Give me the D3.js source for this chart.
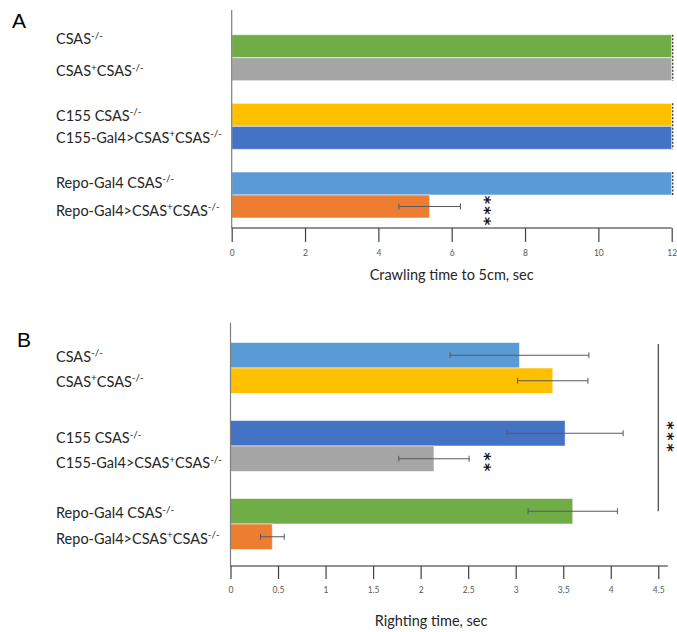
<!DOCTYPE html>
<html>
<head>
<meta charset="utf-8">
<script src="https://cdn.jsdelivr.net/npm/d3@7"></script>
<style>
  html, body { margin: 0; padding: 0; background: #fff; }
  svg { display: block; }
</style>
</head>
<body>
<svg id="chart" width="677" height="632"></svg>
<script>
// Genotype labels; ^{...} marks a superscript run
const genotypes = [
  "CSAS^{-/-}",
  "CSAS^{+}CSAS^{-/-}",
  "C155 CSAS^{-/-}",
  "C155-Gal4>CSAS^{+}CSAS^{-/-}",
  "Repo-Gal4 CSAS^{-/-}",
  "Repo-Gal4>CSAS^{+}CSAS^{-/-}"
];

// Panel A: crawling time to 5 cm (sec); 12 = cut-off
const crawlValues = [12, 12, 12, 12, 12, 5.4];
const crawlErrors = [null, null, null, null, null, 0.84];
const crawlColors = ["#70AD47", "#A5A5A5", "#FFC000", "#4472C4", "#5B9BD5", "#ED7D31"];
const crawlCutoff = [true, true, true, true, true, false];
const crawlTicks = [0, 2, 4, 6, 8, 10, 12];

// Panel B: righting time (sec)
const rightValues = [3.04, 3.39, 3.52, 2.14, 3.6, 0.44];
const rightErrors = [0.73, 0.37, 0.61, 0.37, 0.47, 0.125];
const rightColors = ["#5B9BD5", "#FFC000", "#4472C4", "#A5A5A5", "#70AD47", "#ED7D31"];
const rightTicks = [0, 0.5, 1, 1.5, 2, 2.5, 3, 3.5, 4, 4.5];

// Significance marks
const crawlStars = [{ row: 5, x: 7.0, text: "***" }];
const rightStars = [{ row: 3, x: 2.71, text: "**" }];
const rightBracket = { from: 0, to: 4, x: 4.5, text: "***" };

const svg = d3.select("#chart");
const FONT = "Lato, 'Open Sans', sans-serif";

function addLabel(sel, str, fs) {
  const parts = [];
  const re = /\^\{([^}]*)\}/g;
  let last = 0, m;
  while ((m = re.exec(str)) !== null) {
    if (m.index > last) parts.push({ t: str.slice(last, m.index), sup: false });
    parts.push({ t: m[1], sup: true });
    last = re.lastIndex;
  }
  if (last < str.length) parts.push({ t: str.slice(last), sup: false });
  let shifted = false;
  parts.forEach(p => {
    const ts = sel.append("tspan").text(p.t);
    if (p.sup && !shifted) { ts.attr("dy", -fs * 0.38).attr("font-size", fs * 0.68); shifted = true; }
    else if (p.sup) { ts.attr("font-size", fs * 0.68); }
    else if (!p.sup && shifted) { ts.attr("dy", fs * 0.38); shifted = false; }
  });
}

// Asterisks stacked vertically: the string is turned a quarter turn
function drawStars(g, cx, cy, str, spacing) {
  const fs = 16;
  const adv = fs * 0.5;
  const ls = spacing - adv;
  g.append("text")
    .attr("transform", `translate(${cx},${cy}) rotate(90)`)
    .attr("x", ls / 2)
    .attr("y", fs * 0.6)
    .attr("text-anchor", "middle")
    .attr("letter-spacing", ls)
    .attr("font-family", "'DejaVu Sans', sans-serif")
    .attr("font-weight", "bold")
    .attr("font-size", fs)
    .attr("fill", "#1a1a1a")
    .text(str);
}

function panel(opts) {
  const g = svg.append("g");
  const x = d3.scaleLinear().domain(opts.domain).range(opts.xRange);
  const groupY = d3.scalePoint().domain([0, 1, 2]).range(opts.groupCenters);
  const barH = opts.barH;
  const rowY = i => groupY(Math.floor(i / 2)) - barH + (i % 2) * barH;
  const rowC = i => rowY(i) + barH / 2;

  // bars
  g.selectAll("rect.bar")
    .data(opts.values)
    .join("rect")
    .attr("class", "bar")
    .attr("x", x(0))
    .attr("y", (d, i) => rowY(i))
    .attr("width", d => x(d) - x(0))
    .attr("height", barH)
    .attr("fill", (d, i) => opts.colors[i])
    .attr("stroke", "#ffffff")
    .attr("stroke-opacity", 0.55)
    .attr("stroke-width", 1);

  // error bars
  opts.errors.forEach((e, i) => {
    if (e == null) return;
    const v = opts.values[i], c = rowC(i);
    g.append("line").attr("x1", x(v - e)).attr("x2", x(v + e)).attr("y1", c).attr("y2", c)
      .attr("stroke", "#595959").attr("stroke-width", 1);
    [v - e, v + e].forEach(xv => {
      g.append("line").attr("x1", x(xv)).attr("x2", x(xv)).attr("y1", c - 3).attr("y2", c + 3)
        .attr("stroke", "#595959").attr("stroke-width", 1);
    });
  });

  // y axis line
  g.append("line")
    .attr("x1", x(0)).attr("x2", x(0))
    .attr("y1", opts.yTop).attr("y2", opts.axisY)
    .attr("stroke", "#7f7f7f").attr("stroke-width", 1.2);

  // x axis
  const ax = g.append("g")
    .attr("transform", `translate(0,${opts.axisY})`)
    .call(d3.axisBottom(x).tickValues(opts.ticks).tickSizeInner(opts.tickLen).tickSizeOuter(0)
      .tickPadding(opts.tickPad).tickFormat(d3.format("~g")));
  ax.select(".domain").attr("stroke", "#262626").attr("stroke-width", 1.2)
    .attr("d", `M${x(0)},0H${x(opts.domain[1])}`);
  ax.selectAll(".tick line").attr("stroke", "#404040").attr("stroke-width", 1.2);
  ax.selectAll(".tick text").attr("fill", "#595959").attr("font-size", 8.5)
    .attr("font-family", FONT);

  // axis title
  g.append("text")
    .attr("x", x(opts.titleX)).attr("y", opts.titleY)
    .attr("text-anchor", "middle")
    .attr("font-family", FONT).attr("font-size", 14.5).attr("fill", "#262626")
    .text(opts.title);

  // genotype labels
  genotypes.forEach((lab, i) => {
    const t = g.append("text")
      .attr("x", 56).attr("y", rowC(i) + opts.labelShift[i] + 5)
      .attr("font-family", FONT).attr("font-size", 14.5).attr("fill", "#262626");
    addLabel(t, lab, 14.5);
  });

  // panel letter
  g.append("text")
    .attr("x", opts.letterX).attr("y", opts.letterY)
    .attr("font-family", "'Liberation Sans', Arial, sans-serif").attr("font-size", 21)
    .attr("fill", "#000")
    .text(opts.letter);

  return { g, x, rowY, rowC, barH, groupY };
}

// Panel A
const A = panel({
  letter: "A", letterX: 12, letterY: 28,
  domain: [0, 12], xRange: [231.7, 671.7],
  groupCenters: [57.7, 195], barH: 23,
  values: crawlValues, errors: crawlErrors, colors: crawlColors,
  ticks: crawlTicks, yTop: 10, axisY: 228, tickLen: 14, tickPad: 8,
  title: "Crawling time to 5cm, sec", titleX: 6, titleY: 280,
  labelShift: [-7, 2, 1, 0, -1, 4.5]
});
// dashed cut-off markers at the end of capped bars
[0, 1, 2].forEach(gi => {
  const i0 = gi * 2, i1 = gi * 2 + 1;
  if (!crawlCutoff[i0] && !crawlCutoff[i1]) return;
  const ya = A.rowY(crawlCutoff[i0] ? i0 : i1);
  const yb = A.rowY(crawlCutoff[i1] ? i1 : i0) + A.barH;
  A.g.append("line")
    .attr("x1", A.x(12) + 1).attr("x2", A.x(12) + 1)
    .attr("y1", ya).attr("y2", yb)
    .attr("stroke", "#404040").attr("stroke-width", 1.4)
    .attr("stroke-dasharray", "2,1.5");
});
crawlStars.forEach(s => drawStars(A.g, A.x(s.x), A.rowC(s.row) + 4, s.text, 10.3));

// Panel B
const B = panel({
  letter: "B", letterX: 17, letterY: 347,
  domain: [0, 4.6], xRange: [230.5, 667.8],
  groupCenters: [368, 524], barH: 25.5,
  values: rightValues, errors: rightErrors, colors: rightColors,
  ticks: rightTicks, yTop: 322.7, axisY: 566, tickLen: 13, tickPad: 8,
  title: "Righting time, sec", titleX: 2.11, titleY: 626,
  labelShift: [1.5, 1, 5, 4.5, 2, 2]
});
rightStars.forEach(s => drawStars(B.g, B.x(s.x), B.rowC(s.row) + 3, s.text, 10.3));
// bracket across the first five genotypes
B.g.append("line")
  .attr("x1", B.x(rightBracket.x)).attr("x2", B.x(rightBracket.x))
  .attr("y1", B.rowY(rightBracket.from) + 1.5).attr("y2", B.rowC(rightBracket.to))
  .attr("stroke", "#404040").attr("stroke-width", 1.2);
drawStars(B.g, B.x(rightBracket.x) + 13.5, 436.5, rightBracket.text, 10.8);
</script>
</body>
</html>
